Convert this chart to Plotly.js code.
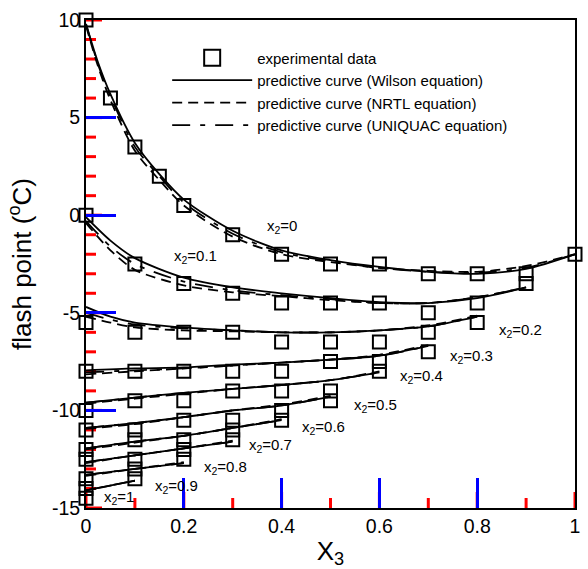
<!DOCTYPE html>
<html><head><meta charset="utf-8">
<script src="https://cdn.plot.ly/plotly-3.0.1.min.js"></script>
<style>html,body{margin:0;padding:0;background:#fff}#chart{width:588px;height:569px}</style>
</head><body><div id="chart"></div>
<script>
// ---- series labels (x2 values) ----
const x2Labels = ['0','0.1','0.2','0.3','0.4','0.5','0.6','0.7','0.8','0.9','1'];

// ---- experimental data (x3, flash point) ----
const expX_00 = [0,0.05,0.1,0.15,0.2,0.3,0.4,0.5,0.6,0.7,0.8,0.9,1.0];
const expY_00 = [10,6,3.5,2,0.5,-1,-2,-2.5,-2.5,-3,-3,-3,-2];
const expX_01 = [0,0.1,0.2,0.3,0.4,0.5,0.6,0.7,0.8,0.9];
const expY_01 = [0,-2.5,-3.5,-4,-4.5,-4.5,-4.5,-5,-4.5,-3.5];
const expX_02 = [0,0.1,0.2,0.3,0.4,0.5,0.6,0.7,0.8];
const expY_02 = [-5.5,-6,-6,-6,-6.5,-6.5,-6.5,-6,-5.5];
const expX_03 = [0,0.1,0.2,0.3,0.4,0.5,0.6,0.7];
const expY_03 = [-8,-8,-8,-8,-8,-7.5,-7.5,-7];
const expX_04 = [0,0.1,0.2,0.3,0.4,0.5,0.6];
const expY_04 = [-10,-9.5,-9.5,-9,-9,-9,-8];
const expX_05 = [0,0.1,0.2,0.3,0.4,0.5];
const expY_05 = [-11,-11,-10.5,-10.5,-10,-9.5];
const expX_06 = [0,0.1,0.2,0.3,0.4];
const expY_06 = [-12,-11.5,-11.5,-11,-10.5];
const expX_07 = [0,0.1,0.2,0.3];
const expY_07 = [-12.5,-12.5,-12,-11.5];
const expX_08 = [0,0.1,0.2];
const expY_08 = [-13.5,-13,-12.5];
const expX_09 = [0,0.1];
const expY_09 = [-14,-13.5];
const expX_10 = [0];
const expY_10 = [-14.5];

// ---- predictive curves ----
const curveX_00   = [0,0.025,0.05,0.1,0.15,0.2,0.3,0.4,0.5,0.6,0.7,0.8,0.9,1.0];
const wilson_00   = [9.8,7.8,6.2,3.7,2.1,0.8,-0.8,-1.8,-2.3,-2.65,-2.9,-3.0,-2.75,-2.0];
const nrtl_00     = [9.7,7.6,5.9,3.3,1.8,0.5,-1.1,-2.0,-2.4,-2.7,-2.85,-2.9,-2.6,-2.0];
const uniquac_00  = [9.8,7.7,6.1,3.5,2.0,0.65,-0.95,-1.9,-2.35,-2.7,-2.9,-2.95,-2.7,-2.0];

const curveX_01   = [0,0.05,0.1,0.2,0.3,0.4,0.5,0.6,0.7,0.8,0.9];
const wilson_01   = [-0.1,-1.3,-2.2,-3.2,-3.7,-4.0,-4.25,-4.45,-4.5,-4.25,-3.7];
const nrtl_01     = [-0.4,-1.8,-2.8,-3.6,-3.95,-4.15,-4.35,-4.5,-4.5,-4.2,-3.7];
const uniquac_01  = [-0.3,-1.6,-2.5,-3.4,-3.85,-4.1,-4.3,-4.5,-4.5,-4.2,-3.7];

const curveX_02   = [0,0.05,0.1,0.2,0.3,0.4,0.5,0.6,0.7,0.8];
const wilson_02   = [-4.7,-5.2,-5.5,-5.75,-5.9,-6.0,-6.0,-5.9,-5.7,-5.2];
const nrtl_02     = [-5.2,-5.5,-5.75,-5.9,-5.95,-6.0,-6.0,-5.9,-5.65,-5.15];
const uniquac_02  = [-5.0,-5.35,-5.6,-5.8,-5.9,-6.0,-6.0,-5.9,-5.7,-5.2];

const curveX_03   = [0,0.1,0.2,0.3,0.4,0.5,0.6,0.7];
const wilson_03   = [-7.95,-7.85,-7.8,-7.65,-7.55,-7.4,-7.2,-6.7];
const nrtl_03     = [-8.15,-8.0,-7.85,-7.7,-7.55,-7.4,-7.15,-6.65];
const uniquac_03  = [-8.05,-7.95,-7.85,-7.7,-7.55,-7.4,-7.2,-6.7];

const curveX_04   = [0,0.1,0.2,0.3,0.4,0.5,0.6];
const wilson_04   = [-9.6,-9.35,-9.1,-8.9,-8.7,-8.45,-8.05];
const nrtl_04     = [-9.65,-9.4,-9.15,-8.9,-8.7,-8.45,-8.0];
const uniquac_04  = [-9.6,-9.35,-9.1,-8.9,-8.7,-8.45,-8.05];

const curveX_05   = [0,0.1,0.2,0.3,0.4,0.5];
const wilson_05   = [-10.9,-10.65,-10.35,-10.0,-9.75,-9.3];
const nrtl_05     = [-10.95,-10.7,-10.35,-10.0,-9.7,-9.25];
const uniquac_05  = [-10.9,-10.65,-10.35,-10.0,-9.75,-9.3];

const curveX_06   = [0,0.1,0.2,0.3,0.4];
const wilson_06   = [-11.95,-11.6,-11.3,-10.9,-10.5];
const nrtl_06     = [-12.0,-11.65,-11.3,-10.9,-10.45];
const uniquac_06  = [-11.95,-11.6,-11.3,-10.9,-10.5];

const curveX_07   = [0,0.1,0.2,0.3];
const wilson_07   = [-12.65,-12.3,-11.95,-11.6];
const nrtl_07     = [-12.7,-12.3,-11.95,-11.55];
const uniquac_07  = [-12.65,-12.3,-11.95,-11.6];

const curveX_08   = [0,0.1,0.2];
const wilson_08   = [-13.3,-13.0,-12.7];
const nrtl_08     = [-13.35,-13.0,-12.65];
const uniquac_08  = [-13.3,-13.0,-12.7];

const curveX_09   = [0,0.1];
const wilson_09   = [-14.1,-13.6];
const nrtl_09     = [-14.1,-13.6];
const uniquac_09  = [-14.1,-13.6];

// ---- axis ticks ----
const xTickVals = [0,0.2,0.4,0.6,0.8,1];
const xTickText = ['0','0.2','0.4','0.6','0.8','1'];
const xMinorTickVals = [0.1,0.3,0.5,0.7,0.9];
const yTickVals = [10,5,0,-5,-10,-15];
const yTickText = ['10','5','0','-5','-10','-15'];
const yMinorTickVals = [9,8,7,6,4,3,2,1,-1,-2,-3,-4,-6,-7,-8,-9,-11,-12,-13,-14];

// ---- legend names ----
const legendNames = ['experimental data','predictive curve (Wilson equation)',
  'predictive curve (NRTL equation)','predictive curve (UNIQUAC equation)'];

// ---- label placement (x3, y) for the x2 labels ----
const labelPosX = [0.366,0.176,0.84,0.74,0.638,0.544,0.438,0.329,0.237,0.137,0.033];
const labelPosY = [-0.6,-2.1,-5.9,-7.23,-8.26,-9.74,-10.87,-11.8,-12.92,-13.9,-14.46];

// ---------------- build traces ----------------
const X_RANGE = [0,1], Y_RANGE = [-15,10];
const expXs = [expX_00,expX_01,expX_02,expX_03,expX_04,expX_05,expX_06,expX_07,expX_08,expX_09,expX_10];
const expYs = [expY_00,expY_01,expY_02,expY_03,expY_04,expY_05,expY_06,expY_07,expY_08,expY_09,expY_10];
const curveXs = [curveX_00,curveX_01,curveX_02,curveX_03,curveX_04,curveX_05,curveX_06,curveX_07,curveX_08,curveX_09];
const wilsons = [wilson_00,wilson_01,wilson_02,wilson_03,wilson_04,wilson_05,wilson_06,wilson_07,wilson_08,wilson_09];
const nrtls = [nrtl_00,nrtl_01,nrtl_02,nrtl_03,nrtl_04,nrtl_05,nrtl_06,nrtl_07,nrtl_08,nrtl_09];
const uniquacs = [uniquac_00,uniquac_01,uniquac_02,uniquac_03,uniquac_04,uniquac_05,uniquac_06,uniquac_07,uniquac_08,uniquac_09];

function joinSeries(xs, ys){
  const X=[],Y=[];
  xs.forEach((xa,i)=>{ if(i>0){X.push(null);Y.push(null);} X.push(...xa); Y.push(...ys[i]); });
  return {X,Y};
}
const FONT = 'Liberation Sans, Arial, Helvetica, sans-serif';
const traces = [];

// ---- inside tick marks: tick lengths in px converted through the axis scales ----
const PLOT_W = 588-86-13, PLOT_H = 569-20-61;
const MAJOR = 16, MINOR = 10;
const pxToX = (X_RANGE[1]-X_RANGE[0])/PLOT_W, pxToY = (Y_RANGE[1]-Y_RANGE[0])/PLOT_H;
const tx=[], ty=[];
function xTick(v,len){ tx.push(v,v,null); ty.push(Y_RANGE[0], Y_RANGE[0]+len*pxToY, null); }
function yTick(v,len){ tx.push(X_RANGE[0], X_RANGE[0]+len*pxToX, null); ty.push(v,v,null); }
xTickVals.forEach(v=>xTick(v,MAJOR));
xMinorTickVals.forEach(v=>xTick(v,MINOR));
yTickVals.forEach(v=>yTick(v,MAJOR));
yMinorTickVals.forEach(v=>yTick(v,MINOR));
traces.push({x:tx, y:ty, type:'scatter', mode:'lines', showlegend:false,
  cliponaxis:false, line:{color:'red', width:3}});

function modelTrace(ys, name, dash, rank){
  const j = joinSeries(curveXs, ys);
  return {x:j.X, y:j.Y, type:'scatter', mode:'lines', name:name, legendrank:rank,
    connectgaps:false, line:{color:'black', width:1.8, dash:dash, shape:'spline', smoothing:0.8},
    hoverinfo:'skip'};
}
traces.push(modelTrace(wilsons, legendNames[1], 'solid', 2));
traces.push(modelTrace(nrtls, legendNames[2], '10px,6px', 3));
traces.push(modelTrace(uniquacs, legendNames[3], '18px,10px,5px,10px', 4));
const ej = joinSeries(expXs, expYs);
traces.push({x:ej.X, y:ej.Y, type:'scatter', mode:'markers', name:legendNames[0], showlegend:false,
  cliponaxis:false, marker:{symbol:'square-open', size:13, color:'black', line:{width:2, color:'black'}}});
traces.push({x:[null], y:[null], type:'scatter', mode:'markers', name:legendNames[0], legendrank:1,
  marker:{symbol:'square-open', size:16, color:'black', line:{width:2, color:'black'}}});

const annotations = x2Labels.map((lab,i)=>({
  x:labelPosX[i], y:labelPosY[i], xref:'x', yref:'y', xanchor:'left', yanchor:'middle',
  text:'x<sub>2</sub>='+lab, showarrow:false, font:{family:FONT, size:15, color:'black'}
}));

const axisCommon = {showline:true, linecolor:'black', linewidth:2, mirror:true, showgrid:false,
  zeroline:false, ticks:'inside', ticklen:30, tickwidth:3, tickcolor:'blue',
  tickfont:{family:FONT, size:19.5, color:'black'}, tickmode:'array'};

const layout = {
  width:588, height:569, paper_bgcolor:'white', plot_bgcolor:'white',
  margin:{l:86, r:13, t:20, b:61, pad:0},
  font:{family:FONT, color:'black'},
  showlegend:true,
  legend:{x:0.166, y:0.956, xanchor:'left', yanchor:'top', bgcolor:'rgba(0,0,0,0)',
    font:{family:FONT, size:15, color:'black'}, itemwidth:80, traceorder:'normal'},
  xaxis:Object.assign({}, axisCommon, {range:X_RANGE, tickvals:xTickVals, ticktext:xTickText,
    title:{text:'X<sub>3</sub>', font:{family:FONT, size:26, color:'black'}, standoff:6}}),
  yaxis:Object.assign({}, axisCommon, {range:Y_RANGE, tickvals:yTickVals, ticktext:yTickText,
    title:{text:'flash point (<sup>o</sup>C)', font:{family:FONT, size:26, color:'black'}, standoff:13}}),
  annotations:annotations
};
Plotly.newPlot('chart', traces, layout, {staticPlot:true, displayModeBar:false});
</script></body></html>
